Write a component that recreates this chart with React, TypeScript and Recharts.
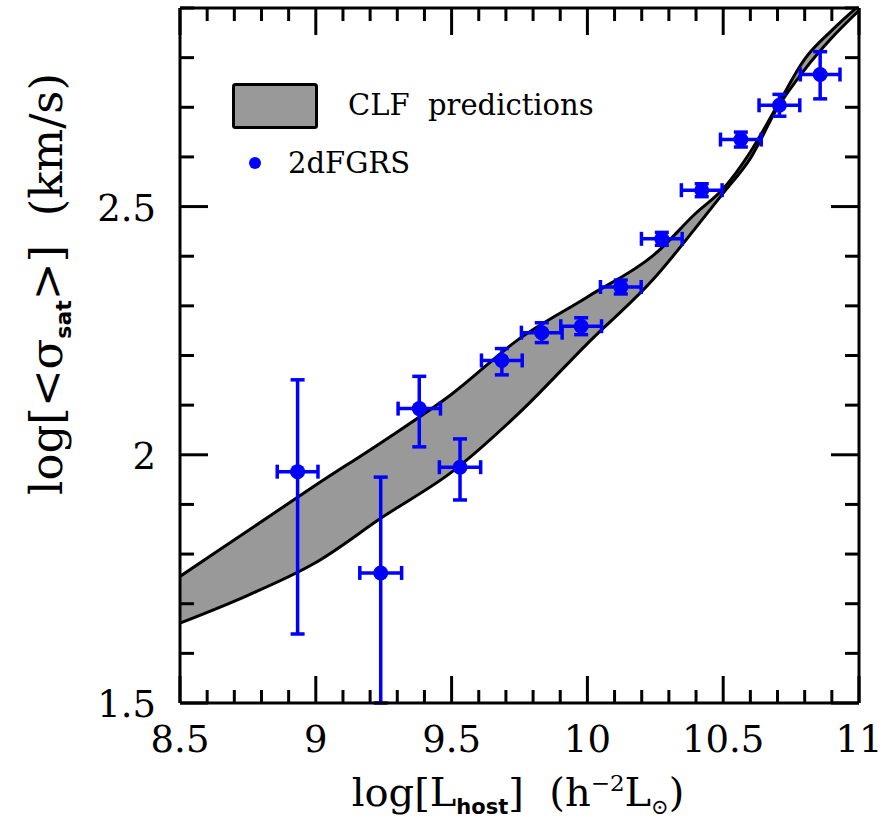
import React from "react";
import {
  Area,
  ComposedChart,
  ErrorBar,
  Label,
  Legend,
  Scatter,
  XAxis,
  YAxis,
} from "recharts";

// CLF prediction band (log L_host, lower / upper edge of log sigma_sat)
const bandX = [8.5, 8.75, 9.0, 9.25, 9.5, 9.75, 10.0, 10.25, 10.4, 10.5, 10.6, 10.7, 10.8, 10.9, 11.0];
const bandLow = [1.661, 1.717, 1.783, 1.876, 1.965, 2.085, 2.224, 2.358, 2.458, 2.527, 2.597, 2.699, 2.776, 2.84, 2.895];
const bandHigh = [1.755, 1.847, 1.939, 2.028, 2.122, 2.234, 2.318, 2.405, 2.487, 2.536, 2.61, 2.704, 2.797, 2.855, 2.905];

// 2dFGRS measurements
const obsX = [8.933, 9.239, 9.381, 9.531, 9.685, 9.832, 9.977, 10.123, 10.274, 10.421, 10.565, 10.707, 10.857];
const obsY = [1.966, 1.762, 2.093, 1.975, 2.19, 2.246, 2.259, 2.338, 2.435, 2.533, 2.635, 2.704, 2.766];
const obsErrLow = [0.327, 0.262, 0.077, 0.066, 0.029, 0.02, 0.017, 0.014, 0.013, 0.013, 0.015, 0.022, 0.049];
const obsErrHigh = [0.185, 0.193, 0.065, 0.057, 0.024, 0.02, 0.017, 0.014, 0.013, 0.013, 0.015, 0.022, 0.046];
const obsErrX = [0.075, 0.077, 0.078, 0.076, 0.075, 0.075, 0.075, 0.075, 0.075, 0.075, 0.075, 0.075, 0.073];

const xMajor = [8.5, 9, 9.5, 10, 10.5, 11];
const yMajor = [1.5, 2, 2.5];

const SERIF = "'DejaVu Serif', serif";
const SANS = "'DejaVu Sans', sans-serif";
const BLUE = "#0000ff";

const band = bandX.map((x, i) => ({ x, range: [bandLow[i], bandHigh[i]] }));
const obs = obsX.map((x, i) => ({
  x,
  y: obsY[i],
  ex: obsErrX[i],
  ey: [obsErrLow[i], obsErrHigh[i]],
}));

// minor ticks every 0.1
const steps = (a: number, b: number) => {
  const out: number[] = [];
  for (let v = a; v <= b + 1e-9; v += 0.1) out.push(Math.round(v * 10) / 10);
  return out;
};
const xTicks = steps(8.5, 11);
const yTicks = steps(1.5, 2.9);
const isMajor = (v: number, majors: number[]) => majors.some((m) => Math.abs(m - v) < 1e-6);

const BottomTick = ({ x, y, payload }: any) => {
  const major = isMajor(payload.value, xMajor);
  return (
    <g>
      <line x1={x} x2={x} y1={y} y2={y - (major ? 27 : 13)} stroke="#000" strokeWidth={3} />
      {major && (
        <text x={x} y={y + 49} textAnchor="middle" fontSize={37} fontFamily={SERIF} fill="#000">
          {payload.value}
        </text>
      )}
    </g>
  );
};

const TopTick = ({ x, y, payload }: any) => {
  const major = isMajor(payload.value, xMajor);
  return <line x1={x} x2={x} y1={y} y2={y + (major ? 27 : 13)} stroke="#000" strokeWidth={3} />;
};

const LeftTick = ({ x, y, payload }: any) => {
  const major = isMajor(payload.value, yMajor);
  return (
    <g>
      <line x1={x} x2={x + (major ? 28 : 14)} y1={y} y2={y} stroke="#000" strokeWidth={3} />
      {major && (
        <text x={x - 24} y={y + 14} textAnchor="end" fontSize={37} fontFamily={SERIF} fill="#000">
          {payload.value}
        </text>
      )}
    </g>
  );
};

const RightTick = ({ x, y, payload }: any) => {
  const major = isMajor(payload.value, yMajor);
  return <line x1={x} x2={x - (major ? 28 : 14)} y1={y} y2={y} stroke="#000" strokeWidth={3} />;
};

const YTitle = () => (
  <text
    transform="translate(62,284) rotate(-90)"
    textAnchor="middle"
    fontSize={45}
    fontFamily={SERIF}
    fill="#000"
    style={{ whiteSpace: "pre" }}
  >
    {"log[<σ"}
    <tspan fontSize={22} fontWeight="bold" fontFamily={SANS} dy={9}>
      sat
    </tspan>
    <tspan dy={-9}>{">]  (km/s)"}</tspan>
  </text>
);

const XTitle = () => (
  <text
    x={518}
    y={806}
    textAnchor="middle"
    fontSize={40}
    fontFamily={SERIF}
    fill="#000"
    style={{ whiteSpace: "pre" }}
  >
    {"log[L"}
    <tspan fontSize={21} fontWeight="bold" fontFamily={SANS} dy={8}>
      host
    </tspan>
    <tspan dy={-8}>{"]  (h"}</tspan>
    <tspan fontSize={23} dy={-15}>
      −2
    </tspan>
    <tspan dy={15}>L</tspan>
    <tspan fontSize={21} dy={8}>
      ⊙
    </tspan>
    <tspan dy={-8}>)</tspan>
  </text>
);

const LegendBox = () => (
  <svg width={400} height={110} style={{ display: "block" }}>
    <rect x={1.5} y={1.5} width={83} height={43} rx={2} fill="#999999" stroke="#000" strokeWidth={3} />
    <text x={116} y={32} fontSize={29} fontFamily={SERIF} fill="#000" style={{ whiteSpace: "pre" }}>
      {"CLF  predictions"}
    </text>
    <circle cx={23} cy={80} r={6} fill={BLUE} />
    <text x={56} y={90} fontSize={29} fontFamily={SERIF} fill="#000">
      2dFGRS
    </text>
  </svg>
);

export default function App() {
  return (
    <div style={{ position: "absolute", left: 0, top: 0, background: "#fff" }}>
      <ComposedChart width={884} height={825} data={band} margin={{ top: 0, right: 0, bottom: 0, left: 0 }}>
        <XAxis
          dataKey="x"
          type="number"
          domain={[8.5, 11]}
          allowDataOverflow
          ticks={xTicks}
          interval={0}
          height={122}
          tickSize={0}
          tickMargin={0}
          tickLine={false}
          tick={BottomTick}
          axisLine={{ stroke: "#000", strokeWidth: 3 }}
        >
          <Label content={XTitle} />
        </XAxis>
        <XAxis
          xAxisId="top"
          orientation="top"
          dataKey="x"
          type="number"
          domain={[8.5, 11]}
          allowDataOverflow
          ticks={xTicks}
          interval={0}
          height={8}
          tickSize={0}
          tickMargin={0}
          tickLine={false}
          tick={TopTick}
          axisLine={{ stroke: "#000", strokeWidth: 3 }}
        />
        <YAxis
          type="number"
          domain={[1.5, 2.9]}
          allowDataOverflow
          ticks={yTicks}
          interval={0}
          width={180}
          tickSize={0}
          tickMargin={0}
          tickLine={false}
          tick={LeftTick}
          axisLine={{ stroke: "#000", strokeWidth: 3 }}
        >
          <Label content={YTitle} />
        </YAxis>
        <YAxis
          yAxisId="right"
          orientation="right"
          type="number"
          domain={[1.5, 2.9]}
          allowDataOverflow
          ticks={yTicks}
          interval={0}
          width={25}
          tickSize={0}
          tickMargin={0}
          tickLine={false}
          tick={RightTick}
          axisLine={{ stroke: "#000", strokeWidth: 3 }}
        />
        <Area
          type="monotone"
          dataKey="range"
          stroke="#000"
          strokeWidth={3}
          fill="#999999"
          fillOpacity={1}
          dot={false}
          activeDot={false}
          isAnimationActive={false}
        />
        <Scatter
          data={obs}
          dataKey="y"
          fill={BLUE}
          isAnimationActive={false}
          shape={(p: any) => <circle cx={p.cx} cy={p.cy} r={7.5} fill={BLUE} />}
        >
          <ErrorBar dataKey="ex" direction="x" stroke={BLUE} strokeWidth={3.5} width={7} isAnimationActive={false} />
          <ErrorBar dataKey="ey" direction="y" stroke={BLUE} strokeWidth={3.5} width={7} isAnimationActive={false} />
        </Scatter>
        <Legend
          layout="horizontal"
          verticalAlign="middle"
          content={LegendBox}
          wrapperStyle={{ position: "absolute", left: 232, top: 83, width: 400, height: 110 }}
        />
      </ComposedChart>
    </div>
  );
}
